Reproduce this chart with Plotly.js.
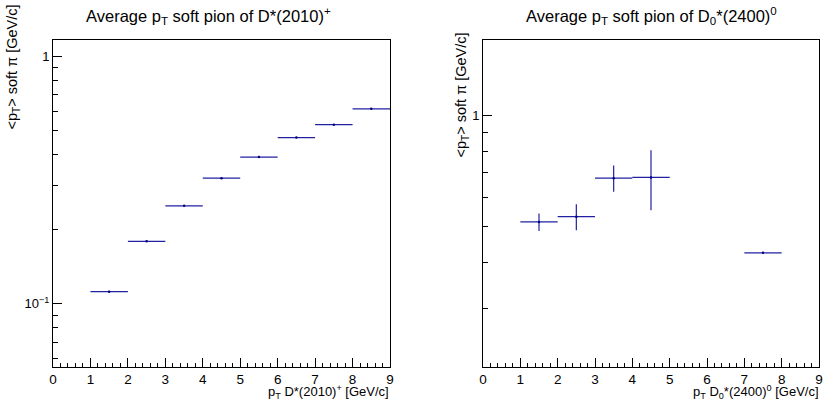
<!DOCTYPE html>
<html>
<head>
<meta charset="utf-8">
<script src="https://cdn.plot.ly/plotly-3.0.1.min.js"></script>
<style>html,body{margin:0;padding:0;background:#fff;}#chart{width:823px;height:407px;}</style>
</head>
<body>
<div id="chart"></div>
<script>
// ---- Data ----
// Left: average pT of soft pion from D*(2010)+ vs pT of D*
const dstarBinLow  = [1, 2, 3, 4, 5, 6, 7, 8];
const dstarBinHigh = [2, 3, 4, 5, 6, 7, 8, 9];
const dstarMeanPt  = [0.112, 0.179, 0.249, 0.322, 0.392, 0.470, 0.530, 0.614];
const dstarErr     = [0.001, 0.001, 0.001, 0.001, 0.002, 0.002, 0.002, 0.003];

// Right: average pT of soft pion from D0*(2400)0 vs pT of D0*
const d0BinLow  = [1, 2, 3, 4, 7];
const d0BinHigh = [2, 3, 4, 5, 8];
const d0MeanPt  = [0.515, 0.532, 0.676, 0.679, 0.425];
const d0Err     = [0.028, 0.043, 0.055, 0.125, 0.002];

const xTickVals = [0,1,2,3,4,5,6,7,8,9];

// ---- helpers ----
const W = 823, H = 407;
const px = v => v / W;
const py = v => 1 - v / H;
const centers = (lo, hi) => lo.map((l, i) => (l + hi[i]) / 2);
const halfW   = (lo, hi) => lo.map((l, i) => (hi[i] - l) / 2);

const lineColor = '#2020a0';
const font = 'Liberation Sans, Arial, Helvetica, sans-serif';

function histTrace(lo, hi, vals, errs, xa, ya) {
  return {
    type: 'scatter', mode: 'markers',
    x: centers(lo, hi), y: vals,
    xaxis: xa, yaxis: ya,
    marker: {size: 2.5, color: '#000080'},
    error_x: {type: 'data', array: halfW(lo, hi), visible: true, width: 0, thickness: 1.2, color: lineColor},
    error_y: {type: 'data', array: errs, visible: true, width: 0, thickness: 1.2, color: lineColor},
    showlegend: false, hoverinfo: 'x+y'
  };
}

const data = [
  histTrace(dstarBinLow, dstarBinHigh, dstarMeanPt, dstarErr, 'x', 'y'),
  histTrace(d0BinLow, d0BinHigh, d0MeanPt, d0Err, 'x2', 'y2')
];

const yDom = [py(367), py(39.5)];

function xAxis(dom, anchor) {
  return {
    domain: dom, anchor: anchor, range: [0, 9],
    showline: true, mirror: true, linecolor: '#000', linewidth: 1,
    ticks: 'inside', ticklen: 9, tickwidth: 1, tickcolor: '#000',
    tickvals: xTickVals, ticktext: xTickVals.map(String),
    minor: {dtick: 0.2, tick0: 0, ticks: 'inside', ticklen: 4.5, tickwidth: 1, tickcolor: '#000', showgrid: false},
    tickfont: {family: font, size: 13.5, color: '#000'},
    showgrid: false, zeroline: false, fixedrange: true
  };
}
function yAxis(range, anchor, tv, tt, minorVals) {
  return {
    domain: yDom, anchor: anchor, type: 'log',
    range: [Math.log10(range[0]), Math.log10(range[1])],
    showline: true, mirror: true, linecolor: '#000', linewidth: 1,
    ticks: 'inside', ticklen: 9, tickwidth: 1, tickcolor: '#000',
    tickmode: 'array', tickvals: tv, ticktext: tt,
    minor: {tickmode: 'array', tickvals: minorVals, ticks: 'inside', ticklen: 5, tickwidth: 1, tickcolor: '#000', showgrid: false},
    tickfont: {family: font, size: 13, color: '#000'},
    showgrid: false, zeroline: false, fixedrange: true
  };
}

const leftMinor = [0.06,0.07,0.08,0.09,0.2,0.3,0.4,0.5,0.6,0.7,0.8,0.9];
const rightMinor = [0.3,0.4,0.5,0.6,0.7,0.8,0.9];

const layout = {
  width: W, height: H,
  margin: {l: 0, r: 0, t: 0, b: 0},
  paper_bgcolor: '#fff', plot_bgcolor: '#fff',
  font: {family: font, color: '#000'},
  xaxis: xAxis([px(53), px(390)], 'y'),
  yaxis: yAxis([0.0556, 1.17], 'x', [0.1, 1], ['10<sup>−1</sup>', '1'], leftMinor),
  xaxis2: xAxis([px(483), px(819)], 'y2'),
  yaxis2: yAxis([0.209, 1.6], 'x2', [1], ['1'], rightMinor),
  annotations: [
    {text: 'Average p<sub>T</sub> soft pion of D*(2010)<sup>+</sup>', xref: 'paper', yref: 'paper',
     x: px(208), y: py(16), xanchor: 'center', yanchor: 'middle', showarrow: false,
     font: {family: font, size: 16.5, color: '#000'}},
    {text: 'Average p<sub>T</sub> soft pion of D<sub>0</sub>*(2400)<sup>0</sup>', xref: 'paper', yref: 'paper',
     x: px(651), y: py(16), xanchor: 'center', yanchor: 'middle', showarrow: false,
     font: {family: font, size: 16.5, color: '#000'}},
    {text: 'p<sub>T</sub> D*(2010)<sup>+</sup> [GeV/c]', xref: 'paper', yref: 'paper',
     x: px(391), y: py(392), xanchor: 'right', yanchor: 'middle', showarrow: false,
     font: {family: font, size: 13, color: '#000'}},
    {text: 'p<sub>T</sub> D<sub>0</sub>*(2400)<sup>0</sup> [GeV/c]', xref: 'paper', yref: 'paper',
     x: px(821), y: py(392), xanchor: 'right', yanchor: 'middle', showarrow: false,
     font: {family: font, size: 13, color: '#000'}},
    {text: '<p<sub>T</sub>> soft π [GeV/c]', xref: 'paper', yref: 'paper',
     x: px(12), y: py(132), xanchor: 'center', yanchor: 'bottom', textangle: -90, showarrow: false,
     font: {family: font, size: 14.5, color: '#000'}},
    {text: '<p<sub>T</sub>> soft π [GeV/c]', xref: 'paper', yref: 'paper',
     x: px(462), y: py(160), xanchor: 'center', yanchor: 'bottom', textangle: -90, showarrow: false,
     font: {family: font, size: 14.5, color: '#000'}}
  ]
};

Plotly.newPlot('chart', data, layout, {staticPlot: true, displayModeBar: false});
</script>
</body>
</html>
